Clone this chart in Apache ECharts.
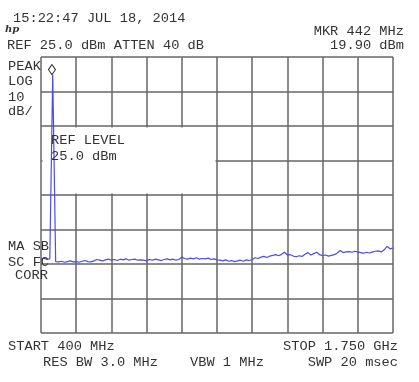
<!DOCTYPE html>
<html>
<head>
<meta charset="utf-8">
<script src="https://cdn.jsdelivr.net/npm/echarts@6/dist/echarts.min.js"></script>
<style>
    html, body { margin: 0; padding: 0; background: #fff; }
    #chart { width: 419px; height: 382px; }
</style>
</head>
<body>
<div id="chart"></div>
<script>
// 扫频设置 (MHz / dBm)
var startFreq = 400;
var stopFreq = 1750;
var refLevel = 25;
var dbPerDiv = 10;
var divsX = 10;
var divsY = 8;

// 迹线读数, 从 START 到 STOP 等间隔
var levels = [
    -33.6, -33.3, -33.7, -33.5, 19.9, -34.3,
    -34.4, -34.2, -34.5, -34.3, -34.1, -34.4, -34.3, -34.5, -34.2, -34.0, -34.3, -34.4, -34.1, -33.7,
    -33.9, -34.1, -33.8, -33.6, -33.9, -33.7, -34.0, -33.6, -33.8, -33.5, -33.9, -33.7, -33.6, -33.9, -33.8,
    -33.9, -34.1, -33.7, -33.9, -33.6, -33.8, -34.0, -33.7, -33.5, -33.8, -33.6, -33.9, -33.7,
    -33.0,
    -33.4, -33.6, -33.3, -33.5, -33.2, -33.6, -33.4, -33.5, -33.3, -33.7, -33.5, -33.8,
    -33.9, -34.1, -33.8, -34.2, -34.0, -34.3, -34.1, -33.9, -34.2, -33.8, -34.0, -33.7,
    -33.2,
    -33.4, -33.0, -32.8, -33.1, -32.7, -32.5,
    -32.3, -32.6, -32.2, -31.6, -32.4, -32.3,
    -32.7, -32.9, -32.6, -32.8,
    -32.2, -31.7, -32.4, -32.0, -31.6, -32.3,
    -32.6, -32.4, -32.7, -32.5, -32.3,
    -31.8, -31.1, -31.7, -31.5,
    -31.4, -31.6, -31.3, -31.5, -31.7,
    -31.9, -31.6, -31.8, -31.5,
    -31.3, -31.2, -31.5, -30.9,
    -29.9,
    -30.6, -30.4
];

var markerFreq = 442;
var markerLevel = 19.90;

// 屏幕文字
var headerTexts = ['15:22:47 JUL 18, 2014', 'REF 25.0 dBm ATTEN 40 dB'];
var markerTexts = ['MKR 442 MHz', '19.90 dBm'];
var sideTexts = ['PEAK', 'LOG', '10', 'dB/'];
var refBoxTexts = ['REF LEVEL', '25.0 dBm'];
var corrTexts = ['MA SB', 'SC FC', 'CORR'];
var footerTexts = ['START 400 MHz', 'STOP 1.750 GHz', 'RES BW 3.0 MHz', 'VBW 1 MHz', 'SWP 20 msec'];

var gl = 41, gt = 57, gw = 352, gh = 276;
var divW = gw / divsX, divH = gh / divsY;

var traceData = levels.map(function (v, i) {
    return [startFreq + i * (stopFreq - startFreq) / (levels.length - 1), v];
});

var FONT = '"Liberation Mono", "DejaVu Sans Mono", monospace';
function txt(x, y, s, align) {
    return {
        type: 'text',
        x: x, y: y,
        scaleX: 1.14,
        z: 5,
        style: {
            text: s,
            fill: '#333',
            font: '12px ' + FONT,
            align: align || 'left',
            verticalAlign: 'middle'
        }
    };
}

var charts = echarts.init(document.getElementById('chart'));
var gridLine = { show: true, lineStyle: { color: '#666', width: 1.5 } };
var option = {
    animation: false,
    backgroundColor: '#fff',
    grid: { left: gl, top: gt, width: gw, height: gh },
    xAxis: [
        { type: 'value', min: startFreq, max: stopFreq, show: false },
        {
            type: 'value', min: 0, max: divsX, interval: 1,
            axisLine: { show: false }, axisTick: { show: false }, axisLabel: { show: false },
            splitLine: gridLine
        }
    ],
    yAxis: [
        { type: 'value', min: refLevel - divsY * dbPerDiv, max: refLevel, show: false },
        {
            type: 'value', min: 0, max: divsY, interval: 1,
            axisLine: { show: false }, axisTick: { show: false }, axisLabel: { show: false },
            splitLine: gridLine
        }
    ],
    graphic: [
        {
            type: 'rect',
            z: 1,
            shape: { x: gl + 1.5, y: gt + 2 * divH + 1.5, width: 5 * divW - 3, height: 2 * divH - 3 },
            style: { fill: '#fff' }
        },
        txt(13, 19, headerTexts[0]),
        {
            type: 'text', x: 5, y: 29.5, z: 5,
            style: { text: 'hp', fill: '#333', font: 'italic bold 10px "DejaVu Serif", serif', verticalAlign: 'middle' }
        },
        txt(7, 46, headerTexts[1]),
        txt(404, 32, markerTexts[0], 'right'),
        txt(404, 46, markerTexts[1], 'right'),
        txt(8, 66.5, sideTexts[0]),
        txt(8, 81.5, sideTexts[1]),
        txt(8, 97.5, sideTexts[2]),
        txt(8, 111.5, sideTexts[3]),
        txt(51, 141, refBoxTexts[0]),
        txt(51, 157, refBoxTexts[1]),
        txt(8, 247, corrTexts[0]),
        txt(8, 263, corrTexts[1]),
        txt(15, 275.5, corrTexts[2]),
        txt(8, 347, footerTexts[0]),
        txt(398, 347, footerTexts[1], 'right'),
        txt(43, 363, footerTexts[2]),
        txt(190, 363, footerTexts[3]),
        txt(398, 363, footerTexts[4], 'right')
    ],
    series: [
        {
            type: 'line',
            xAxisIndex: 0,
            yAxisIndex: 0,
            data: traceData,
            symbol: 'none',
            z: 3,
            lineStyle: { color: '#4b4bf5', width: 1.2 },
            markPoint: {
                symbol: 'diamond',
                symbolSize: [7, 10],
                symbolOffset: [0, -5],
                label: { show: false },
                itemStyle: { color: '#fff', borderColor: '#222', borderWidth: 1 },
                data: [{ coord: [markerFreq, markerLevel] }]
            }
        }
    ]
};
//渲染图表
if (option && typeof option === "object") {
    charts.setOption(option, true);
}
</script>
</body>
</html>
